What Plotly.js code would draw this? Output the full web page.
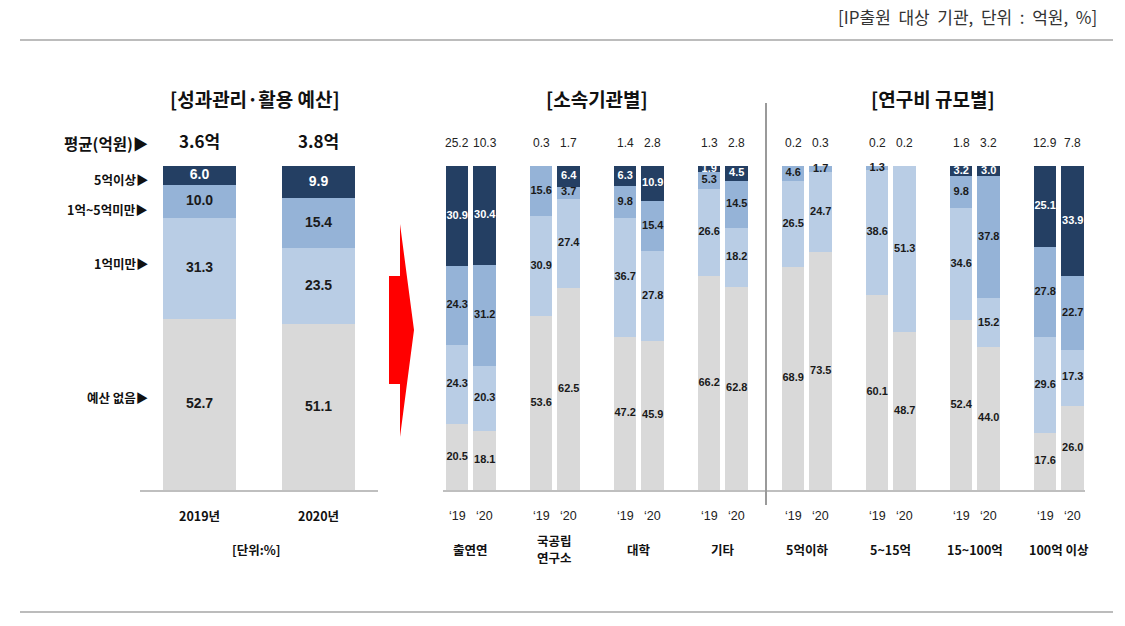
<!DOCTYPE html>
<html>
<head>
<meta charset="utf-8">
<script src="https://cdn.plot.ly/plotly-3.0.1.min.js"></script>
<style>
  html, body { margin: 0; padding: 0; background: #fff; }
  #chart { width: 1125px; height: 626px; }
</style>
</head>
<body>
<div id="chart"></div>
<script>
// left panel: 성과관리·활용 예산 (%)
const yearsL = ['2019년', '2020년'];
const noneL = [52.7, 51.1];
const under1L = [31.3, 23.5];
const mid1to5L = [10.0, 15.4];
const over5L = [6.0, 9.9];
const avgL = ['3.6억', '3.8억'];
const rowLabels = ['평균(억원)▶', '5억이상▶', '1억~5억미만▶', '1억미만▶', '예산 없음▶'];

// right panel: 소속기관별 / 연구비 규모별, two bars per group ('19, '20)
const groups = ['출연연', '국공립<br>연구소', '대학', '기타', '5억이하', '5~15억', '15~100억', '100억 이상'];
const yearTicks = ['‘19', '‘20'];
const noneR = [20.5, 18.1, 53.6, 62.5, 47.2, 45.9, 66.2, 62.8, 68.9, 73.5, 60.1, 48.7, 52.4, 44.0, 17.6, 26.0];
const under1R = [24.3, 20.3, 30.9, 27.4, 36.7, 27.8, 26.6, 18.2, 26.5, 24.7, 38.6, 51.3, 34.6, 15.2, 29.6, 17.3];
const mid1to5R = [24.3, 31.2, 15.6, 3.7, 9.8, 15.4, 5.3, 14.5, 4.6, 1.7, 1.3, 0, 9.8, 37.8, 27.8, 22.7];
const over5R = [30.9, 30.4, 0, 6.4, 6.3, 10.9, 1.9, 4.5, 0, 0, 0, 0, 3.2, 3.0, 25.1, 33.9];
const avgR = ['25.2', '10.3', '0.3', '1.7', '1.4', '2.8', '1.3', '2.8', '0.2', '0.3', '0.2', '0.2', '1.8', '3.2', '12.9', '7.8'];

const W = 1125, H = 626;
const px = (p) => p / W;
const py = (p) => 1 - p / H;

const NAVY = '#243f63', MID = '#95b3d7', LIGHT = '#b9cde5', GREY = '#d9d9d9';
const NUM_FONT = 'Liberation Sans, Arial, Noto Sans CJK KR, sans-serif';
const KR_FONT = 'Noto Sans CJK KR, Liberation Sans, sans-serif';

const xL = yearsL.map((d, i) => i);
const xR = noneR.map((d, k) => Math.floor(k / 2) + (k % 2 ? 0.164 : -0.164));

const series = [
  {name: '예산 없음', color: GREY, left: noneL, right: noneR, txt: '#1a1a1a'},
  {name: '1억미만', color: LIGHT, left: under1L, right: under1R, txt: '#1a1a1a'},
  {name: '1억~5억미만', color: MID, left: mid1to5L, right: mid1to5R, txt: '#1a1a1a'},
  {name: '5억이상', color: NAVY, left: over5L, right: over5R, txt: '#ffffff'},
];

const traces = [];
series.forEach(function (s) {
  traces.push({
    type: 'bar', x: xL, y: s.left, width: 0.613, xaxis: 'x', yaxis: 'y',
    marker: {color: s.color, line: {width: 0}}, hoverinfo: 'skip', showlegend: false,
  });
  traces.push({
    type: 'bar', x: xR, y: s.right, width: 0.268, xaxis: 'x2', yaxis: 'y2',
    marker: {color: s.color, line: {width: 0}}, hoverinfo: 'skip', showlegend: false,
  });
});

// segment labels at the middle of each stacked piece
function labelTrace(xs, cols, xa, ya, size) {
  const base = xs.map(() => 0);
  series.forEach(function (s) {
    const vals = cols(s);
    const ys = vals.map((v, i) => base[i] + v / 2);
    vals.forEach((v, i) => { base[i] += v; });
    traces.push({
      type: 'scatter', mode: 'text', x: xs, y: ys, xaxis: xa, yaxis: ya,
      text: vals.map((v) => (v > 0 ? v.toFixed(1) : '')),
      textposition: 'middle center',
      textfont: {family: NUM_FONT, size: size, color: s.txt, weight: 'bold'},
      hoverinfo: 'skip', showlegend: false, cliponaxis: false,
    });
  });
}
labelTrace(xL, (s) => s.left, 'x', 'y', 14);
labelTrace(xR, (s) => s.right, 'x2', 'y2', 11);

const annotations = [];
function note(text, x, y, opts) {
  annotations.push(Object.assign({
    text: text, xref: 'paper', yref: 'paper', x: px(x), y: py(y),
    xanchor: 'center', yanchor: 'middle', showarrow: false,
    font: {family: KR_FONT, size: 12, color: '#1a1a1a'},
  }, opts || {}));
}
function axNote(text, xa, x, y, font) {
  annotations.push({text: text, xref: xa, yref: 'paper', x: x, y: py(y),
    xanchor: 'center', yanchor: 'middle', showarrow: false, font: font});
}

// header
note('[IP출원&nbsp; 대상&nbsp; 기관,&nbsp; 단위&nbsp; :&nbsp; 억원,&nbsp; %]', 1099, 17,
  {xanchor: 'right', font: {family: KR_FONT, size: 17, color: '#333'}});
// panel titles
const titleFont = {family: KR_FONT, size: 19, color: '#111', weight: 'bold'};
note('[성과관리·활용 예산]', 255, 98, {font: titleFont});
note('[소속기관별]', 597, 98, {font: titleFont});
note('[연구비 규모별]', 933, 98, {font: titleFont});

// left panel row labels
const rowY = [143, 180, 209, 263, 397];
rowLabels.forEach(function (t, i) {
  note(t, 150, rowY[i], {xanchor: 'right', font: {family: KR_FONT, size: i === 0 ? 15.5 : 12.5, color: '#111', weight: 'bold'}});
});
// left averages and year labels
yearsL.forEach(function (t, i) {
  axNote(avgL[i], 'x', xL[i], 140, {family: KR_FONT, size: 17, color: '#111', weight: 'bold'});
  axNote(t, 'x', xL[i], 515, {family: KR_FONT, size: 12.5, color: '#111', weight: 'bold'});
});
note('[단위:%]', 256, 549, {font: {family: KR_FONT, size: 12.5, color: '#111', weight: 'bold'}});

// right panel averages, year ticks and group names
xR.forEach(function (x, k) {
  axNote(avgR[k], 'x2', x, 143, {family: NUM_FONT, size: 12, color: '#222'});
  axNote(yearTicks[k % 2], 'x2', x, 516, {family: NUM_FONT, size: 12.5, color: '#222'});
});
groups.forEach(function (g, i) {
  const lines = g.split('<br>');
  lines.forEach(function (line, j) {
    const y = 549 + (j - (lines.length - 1) / 2) * 17;
    axNote(line, 'x2', i, y, {family: KR_FONT, size: 12.5, color: '#111', weight: 'bold'});
  });
});

const shapes = [
  {type: 'line', xref: 'paper', yref: 'paper', x0: px(20), x1: px(1113), y0: py(40), y1: py(40), line: {color: '#a6a6a6', width: 1.3}},
  {type: 'line', xref: 'paper', yref: 'paper', x0: px(20), x1: px(1113), y0: py(612), y1: py(612), line: {color: '#a6a6a6', width: 1.3}},
  {type: 'line', xref: 'paper', yref: 'paper', x0: px(766), x1: px(766), y0: py(103), y1: py(505), line: {color: '#9a9a9a', width: 2}},
];
// red arrow between the panels
const arrowPts = [[389, 276], [400, 276], [400, 224], [414, 330], [400, 437], [400, 384], [389, 384]];
shapes.push({
  type: 'path', xref: 'paper', yref: 'paper',
  path: 'M ' + arrowPts.map((p) => px(p[0]).toFixed(5) + ' ' + py(p[1]).toFixed(5)).join(' L ') + ' Z',
  fillcolor: '#ff0000', line: {width: 0},
});

const yDomain = [py(490), py(166)];
const layout = {
  width: W, height: H,
  margin: {l: 0, r: 0, t: 0, b: 0},
  paper_bgcolor: '#fff', plot_bgcolor: 'rgba(0,0,0,0)',
  barmode: 'stack', bargap: 0,
  showlegend: false,
  xaxis: {domain: [px(140), px(378)], range: [-0.5, 1.5], showline: true, linecolor: '#bfbfbf', linewidth: 1.5,
    showticklabels: false, ticks: '', showgrid: false, zeroline: false, fixedrange: true},
  yaxis: {domain: yDomain, range: [0, 100], visible: false, anchor: 'x', fixedrange: true},
  xaxis2: {domain: [px(443), px(1085)], range: [-0.333, 7.31], showline: true, linecolor: '#bfbfbf', linewidth: 1.5,
    showticklabels: false, ticks: '', showgrid: false, zeroline: false, anchor: 'y2', fixedrange: true},
  yaxis2: {domain: yDomain, range: [0, 100], visible: false, anchor: 'x2', fixedrange: true},
  annotations: annotations,
  shapes: shapes,
};

Plotly.newPlot('chart', traces, layout, {displayModeBar: false, staticPlot: true});
</script>
</body>
</html>
